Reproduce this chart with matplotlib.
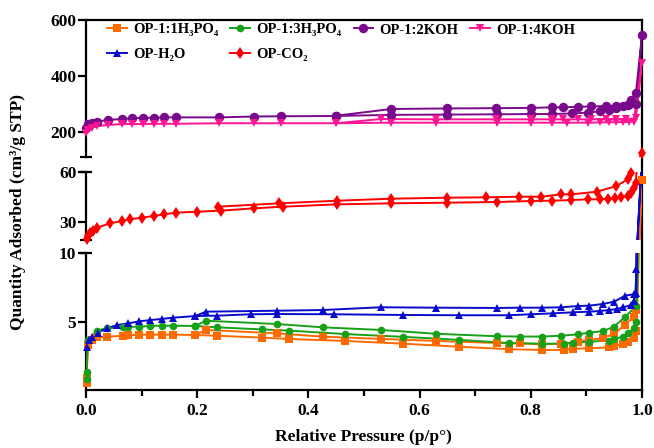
import numpy as np
import matplotlib
matplotlib.use("Agg")
import matplotlib.pyplot as plt

plt.rcParams['font.family'] = ['Liberation Serif', 'DejaVu Serif']
plt.rcParams['font.weight'] = 'bold'

# ---- data (adsorption branch, then desorption branch) ----
h3po4_1_ads_p = [0.001, 0.001, 0.0035, 0.011, 0.019, 0.037, 0.066, 0.076, 0.096, 0.116, 0.136, 0.156, 0.196, 0.236,
                 0.316, 0.366, 0.466, 0.57, 0.67, 0.76, 0.82, 0.86, 0.875, 0.905, 0.94, 0.95, 0.965, 0.975, 0.985,
                 0.99, 0.995, 1.0]
h3po4_1_ads_q = [0.52, 0.88, 3.3, 3.67, 3.86, 3.9, 3.98, 4.0, 4.06, 4.06, 4.06, 4.06, 4.03, 3.98,
                 3.84, 3.74, 3.6, 3.4, 3.18, 3.0, 2.94, 2.94, 3.04, 3.06, 3.14, 3.24, 3.35, 3.55, 3.8,
                 4.3, 10.5, 55]
h3po4_1_des_p = [0.99, 0.985, 0.97, 0.95, 0.93, 0.905, 0.885, 0.855, 0.82, 0.78, 0.74, 0.63, 0.53, 0.426, 0.344,
                 0.216, 0.196]
h3po4_1_des_q = [5.85, 5.37, 4.76, 4.15, 3.8, 3.67, 3.55, 3.4, 3.35, 3.42, 3.45, 3.6, 3.75, 3.91, 4.15,
                 4.4, 4.03]

h3po4_3_ads_p = [0.001, 0.001, 0.004, 0.019, 0.037, 0.066, 0.076, 0.096, 0.116, 0.136, 0.156, 0.196, 0.236, 0.316,
                 0.366, 0.466, 0.57, 0.67, 0.76, 0.82, 0.86, 0.875, 0.905, 0.94, 0.95, 0.965, 0.975, 0.985, 0.99,
                 0.995]
h3po4_3_ads_q = [0.8, 1.36, 3.67, 4.35, 4.52, 4.59, 4.62, 4.64, 4.69, 4.71, 4.71, 4.69, 4.59, 4.44,
                 4.35, 4.1, 3.9, 3.68, 3.45, 3.4, 3.4, 3.43, 3.55, 3.62, 3.72, 3.91, 4.15, 4.52, 5.0,
                 14]
h3po4_3_des_p = [0.99, 0.97, 0.95, 0.93, 0.905, 0.885, 0.855, 0.82, 0.78, 0.74, 0.63, 0.53, 0.426, 0.344, 0.216,
                 0.196]
h3po4_3_des_q = [6.14, 5.37, 4.64, 4.32, 4.2, 4.08, 3.98, 3.92, 3.92, 3.94, 4.12, 4.4, 4.59, 4.83, 5.07,
                 4.69]

koh_2_ads_p = [0.0005, 0.004, 0.01, 0.02, 0.04, 0.065, 0.083, 0.103, 0.122, 0.141, 0.161, 0.24, 0.302, 0.35, 0.45,
               0.549, 0.649, 0.739, 0.8, 0.839, 0.874, 0.903, 0.925, 0.94, 0.954, 0.966, 0.976, 0.981, 0.989, 1.0]
koh_2_ads_q = [212, 227, 232, 236, 242, 245, 248, 249, 250, 251, 251, 251, 254, 255, 256,
               260, 261, 262, 263, 263, 265, 268, 273, 278, 284, 290, 299, 313, 337, 546]
koh_2_des_p = [0.99, 0.974, 0.954, 0.936, 0.908, 0.884, 0.858, 0.839, 0.8, 0.738, 0.649, 0.549, 0.45]
koh_2_des_q = [300, 296, 293, 292, 290, 289, 287, 287, 285, 284, 283, 281, 257]

koh_4_ads_p = [0.0005, 0.004, 0.011, 0.02, 0.04, 0.065, 0.083, 0.103, 0.122, 0.141, 0.161, 0.24, 0.302, 0.35, 0.45,
               0.549, 0.63, 0.739, 0.8, 0.839, 0.865, 0.903, 0.925, 0.94, 0.954, 0.966, 0.976, 0.985, 1.0]
koh_4_ads_q = [194, 206, 214, 220, 224, 227, 227, 227, 228, 228, 228, 230, 230, 230, 230,
               232, 232, 232, 232, 232, 232, 232, 233, 233, 234, 234, 235, 236, 445]
koh_4_des_p = [0.989, 0.971, 0.954, 0.936, 0.908, 0.884, 0.858, 0.839, 0.8, 0.738, 0.63, 0.53, 0.45]
koh_4_des_q = [248, 244, 244, 244, 244, 244, 244, 244, 244, 244, 244, 245, 230]

h2o_ads_p = [0.002, 0.005, 0.011, 0.021, 0.037, 0.056, 0.076, 0.096, 0.116, 0.136, 0.156, 0.196, 0.236, 0.296,
             0.344, 0.446, 0.57, 0.67, 0.76, 0.80, 0.84, 0.875, 0.905, 0.925, 0.94, 0.955, 0.965, 0.98, 0.985,
             0.988, 0.99, 1.0]
h2o_ads_q = [3.18, 3.67, 3.9, 4.2, 4.52, 4.76, 4.88, 5.03, 5.12, 5.2, 5.29, 5.41, 5.44, 5.54,
             5.56, 5.54, 5.49, 5.47, 5.47, 5.54, 5.61, 5.68, 5.73, 5.78, 5.85, 5.92, 6.04, 6.2, 6.5,
             7.0, 8.8, 70]
h2o_des_p = [0.99, 0.985, 0.97, 0.95, 0.93, 0.905, 0.885, 0.855, 0.82, 0.78, 0.74, 0.63, 0.53, 0.426, 0.344,
             0.216, 0.196]
h2o_des_q = [7.1, 7.0, 6.9, 6.46, 6.29, 6.17, 6.14, 6.05, 6.02, 6.02, 6.0, 6.02, 6.05, 5.85, 5.8,
             5.73, 5.41]

co2_ads_p = [0.0015, 0.004, 0.0075, 0.013, 0.02, 0.043, 0.065, 0.079, 0.1, 0.122, 0.141, 0.161, 0.2, 0.242,
             0.302, 0.354, 0.452, 0.549, 0.65, 0.739, 0.8, 0.839, 0.873, 0.903, 0.924, 0.939, 0.951, 0.963,
             0.974, 0.981, 0.985, 0.989, 1.0]
co2_ads_q = [19.4, 21.4, 23, 24.4, 26.4, 29, 30.4, 31.4, 32.4, 33.4, 34.4, 35.4, 36, 36.6,
             38, 39, 40.4, 41, 41.4, 41.8, 42.4, 42.6, 43, 43.4, 43.4, 43.8, 44, 44.6,
             45.4, 47.4, 50, 53, 124]
co2_des_p = [0.981, 0.974, 0.954, 0.919, 0.873, 0.854, 0.819, 0.779, 0.719, 0.65, 0.549, 0.452, 0.347, 0.237]
co2_des_q = [59.4, 55.4, 51.4, 48, 46.4, 46.4, 45, 45, 44.6, 44.4, 43.8, 42.6, 41, 39]

series = [
    ("OP-1:1H\u2083PO\u2084", h3po4_1_ads_p + h3po4_1_des_p, h3po4_1_ads_q + h3po4_1_des_q, "#FF6A00", "s", 6.0),
    ("OP-1:3H\u2083PO\u2084", h3po4_3_ads_p + h3po4_3_des_p, h3po4_3_ads_q + h3po4_3_des_q, "#18A018", "o", 5.5),
    ("OP-1:2KOH", koh_2_ads_p + koh_2_des_p, koh_2_ads_q + koh_2_des_q, "#7A0A8C", "o", 6.8),
    ("OP-1:4KOH", koh_4_ads_p + koh_4_des_p, koh_4_ads_q + koh_4_des_q, "#FF1493", "v", 6.0),
    ("OP-H\u2082O", h2o_ads_p + h2o_des_p, h2o_ads_q + h2o_des_q, "#0A0ACC", "^", 6.0),
    ("OP-CO\u2082", co2_ads_p + co2_des_p, co2_ads_q + co2_des_q, "#FF0000", "d", 6.0),
]

# ---- layout: broken y axis in three segments ----
W, H = 654, 448
fig = plt.figure(figsize=(W / 100, H / 100), dpi=100)

x0, x1 = 86, 642
def rect(ytop, ybot):
    return [x0 / W, 1 - ybot / H, (x1 - x0) / W, (ybot - ytop) / H]

frame = fig.add_axes(rect(20, 390.4), zorder=0)
frame.set_xticks([]); frame.set_yticks([])
frame.patch.set_alpha(0)
for s in ["left", "bottom"]:
    frame.spines[s].set_visible(False)
for s in ["top", "right"]:
    frame.spines[s].set_linewidth(1.6)

ax_top = fig.add_axes(rect(20, 157), zorder=2)
ax_mid = fig.add_axes(rect(171.7, 240), zorder=2)
ax_bot = fig.add_axes(rect(253, 390.4), zorder=2)

segments = [(ax_top, (109, 600), [200, 400, 600], [109]),
            (ax_mid, (19, 60), [30, 60], [19, 60]),
            (ax_bot, (0, 10), [5, 10], [10])]

for ax, lim, ticks, caps in segments:
    ax.patch.set_alpha(0)
    ax.set_xlim(0, 1)
    ax.set_ylim(*lim)
    for s in ["top", "right"]:
        ax.spines[s].set_visible(False)
    ax.spines["left"].set_linewidth(1.6)
    ax.spines["bottom"].set_linewidth(1.6)
    if ax is not ax_bot:
        ax.spines["bottom"].set_visible(False)
        ax.tick_params(axis="x", which="both", bottom=False, labelbottom=False)
    ax.set_yticks(ticks)
    ax.set_yticks(caps, minor=True)
    ax.yaxis.remove_overlapping_locs = False
    ax.tick_params(axis="y", which="major", direction="out", length=6, width=1.6, labelsize=12.5, pad=1)
    ax.tick_params(axis="y", which="minor", direction="inout", length=9, width=1.6)
    for lab in ax.get_yticklabels():
        lab.set_fontweight("bold")

    for label, p, q, color, marker, ms in series:
        p = np.array(p); q = np.array(q)
        ax.plot(p, q, color=color, lw=1.4, zorder=3)
        inside = (q >= lim[0]) & (q <= lim[1])
        ax.plot(p[inside], q[inside], ls="none", marker=marker, ms=ms, color=color,
                markeredgewidth=0, clip_on=False, zorder=4)

ax_bot.set_xticks(np.arange(0, 1.01, 0.2))
ax_bot.set_xticks(np.arange(0.1, 1.0, 0.2), minor=True)
ax_bot.tick_params(axis="x", which="major", direction="out", length=6, width=1.6, labelsize=12.5, pad=3)
ax_bot.tick_params(axis="x", which="minor", direction="out", length=4, width=1.6)
ax_bot.set_xticklabels(["0.0", "0.2", "0.4", "0.6", "0.8", "1.0"], fontweight="bold")

# ---- legend ----
handles = []
for label, p, q, color, marker, ms in series:
    h, = ax_top.plot([], [], color=color, lw=1.4, marker=marker, ms=ms, markeredgewidth=0, label=label)
    handles.append(h)
order = [0, 4, 1, 5, 2, 3]
ax_top.legend([handles[i] for i in order], [handles[i].get_label() for i in order],
              ncol=4, loc="upper left", bbox_to_anchor=(100 / W, 1 - 16 / H), bbox_transform=fig.transFigure,
              frameon=False, prop={"family": ["Liberation Serif", "DejaVu Serif"], "weight": "bold", "size": 10.5},
              handlelength=1.35, handletextpad=0.45, columnspacing=0.8, labelspacing=0.8, borderpad=0)

fig.text(18 / W, 1 - 212 / H, "Quantity Adsorbed (cm\u00b3/g STP)", rotation=90, ha="center", va="center",
         fontsize=12.5, fontweight="bold")
fig.text(363 / W, 1 - 437 / H, "Relative Pressure (p/p\u00b0)", ha="center", va="center",
         fontsize=12.5, fontweight="bold")

fig.savefig("out.png", dpi=100)
